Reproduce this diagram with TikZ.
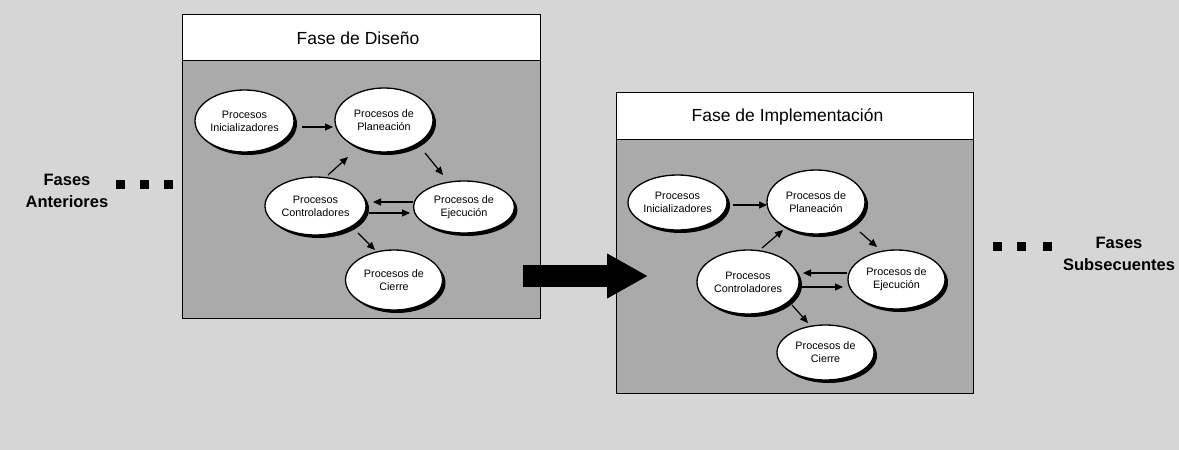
\documentclass[tikz,border=0pt]{standalone}
\usepackage{fontspec}
\setmainfont{Liberation Sans}
\usetikzlibrary{arrows.meta,shapes.geometric,shadows}
\definecolor{pagegray}{RGB}{214,214,214}
\definecolor{panelgray}{RGB}{170,170,170}
\begin{document}
\begin{tikzpicture}[x=1pt,y=-1pt,
  proc/.style={ellipse, draw=black, line width=1.3pt, fill=white, inner sep=0pt,
    align=center, font=\fontsize{10.8}{13}\selectfont,
    drop shadow={shadow xshift=3pt, shadow yshift=-3pt, fill=black, opacity=1}},
  flow/.style={line width=1.2pt, -{Triangle[length=8pt,width=7pt]}},
  panel/.style={draw=black, line width=1.1pt, fill=panelgray, anchor=north west, inner sep=0pt},
  header/.style={draw=black, line width=1.1pt, fill=white, anchor=north west, inner sep=0pt},
  headtext/.style={font=\fontsize{17.5}{20}\selectfont},
  dot/.style={fill=black, minimum size=9pt, inner sep=0pt},
  side/.style={font=\fontsize{16.5}{22}\selectfont\bfseries, align=center},
  bigflow/.style={line width=22pt, -{Triangle[length=41pt,width=42pt]}}
]
% page
\fill[pagegray] (0,0) rectangle (1179,450);
\useasboundingbox (0,0) rectangle (1179,450);

% design phase panel
\node[panel, minimum width=358pt, minimum height=304pt] (Lbox) at (182,14) {};
\node[header, minimum width=358pt, minimum height=46pt] (Lhead) at (182,14) {};
\node[headtext] (Ltitle) at (358,38) {Fase de Diseño};

% implementation phase panel
\node[panel, minimum width=357pt, minimum height=301pt] (Rbox) at (616,92) {};
\node[header, minimum width=357pt, minimum height=47pt] (Rhead) at (616,92) {};
\node[headtext] (Rtitle) at (787.5,117) {Fase de Implementación};

% transition between phases
\coordinate (bigA) at (523,276);
\coordinate (bigB) at (648,276);
\draw[bigflow] (bigA) -- (bigB);

% previous phases
\node[side] (prev) at (67,191) {Fases\\Anteriores};
\node[dot] (p1) at (120,184) {};
\node[dot] (p2) at (144,184) {};
\node[dot] (p3) at (168,184) {};

% following phases
\node[dot] (n1) at (997,246) {};
\node[dot] (n2) at (1021,246) {};
\node[dot] (n3) at (1047,246) {};
\node[side] (next) at (1119,254) {Fases\\Subsecuentes};

% process groups, design phase
\node[proc, minimum width=99pt, minimum height=62pt] (Lini) at (244.5,121) {Procesos\\Inicializadores};
\node[proc, minimum width=98pt, minimum height=64pt] (Lpla) at (384,120) {Procesos de\\Planeación};
\node[proc, minimum width=101pt, minimum height=58pt] (Lctl) at (315.5,206) {Procesos\\Controladores};
\node[proc, minimum width=101pt, minimum height=52pt] (Leje) at (464,207) {Procesos de\\Ejecución};
\node[proc, minimum width=97pt, minimum height=60pt] (Lcie) at (394,280) {Procesos de\\Cierre};

\draw[flow] ([shift={(57.5,6)}]Lini.center) -- ([shift={(-51,7)}]Lpla.center);
\draw[flow] ([shift={(41,33)}]Lpla.center) -- ([shift={(-21,-32)}]Leje.center);
\draw[flow] ([shift={(12.5,-31)}]Lctl.center) -- ([shift={(-36,37)}]Lpla.center);
\draw[flow] ([shift={(-51,-5)}]Leje.center) -- ([shift={(57.5,-4)}]Lctl.center);
\draw[flow] ([shift={(53.5,7)}]Lctl.center) -- ([shift={(-54,6)}]Leje.center);
\draw[flow] ([shift={(42.5,27)}]Lctl.center) -- ([shift={(-19,-30)}]Lcie.center);

% process groups, implementation phase
\node[proc, minimum width=99pt, minimum height=55pt] (Rini) at (677.5,202.5) {Procesos\\Inicializadores};
\node[proc, minimum width=98pt, minimum height=64pt] (Rpla) at (816,202) {Procesos de\\Planeación};
\node[proc, minimum width=102pt, minimum height=64pt] (Rctl) at (748,282) {Procesos\\Controladores};
\node[proc, minimum width=97pt, minimum height=59pt] (Reje) at (896.5,279.5) {Procesos de\\Ejecución};
\node[proc, minimum width=97pt, minimum height=55pt] (Rcie) at (825.5,352.5) {Procesos de\\Cierre};

\draw[flow] ([shift={(55.5,2.5)}]Rini.center) -- ([shift={(-49,3)}]Rpla.center);
\draw[flow] ([shift={(44,30)}]Rpla.center) -- ([shift={(-19.5,-32.5)}]Reje.center);
\draw[flow] ([shift={(14,-34)}]Rctl.center) -- ([shift={(-33,28)}]Rpla.center);
\draw[flow] ([shift={(-49.5,-6.5)}]Reje.center) -- ([shift={(55,-9)}]Rctl.center);
\draw[flow] ([shift={(54,5)}]Rctl.center) -- ([shift={(-53.5,7.5)}]Reje.center);
\draw[flow] ([shift={(44,23)}]Rctl.center) -- ([shift={(-17.5,-29.5)}]Rcie.center);
\end{tikzpicture}
\end{document}
